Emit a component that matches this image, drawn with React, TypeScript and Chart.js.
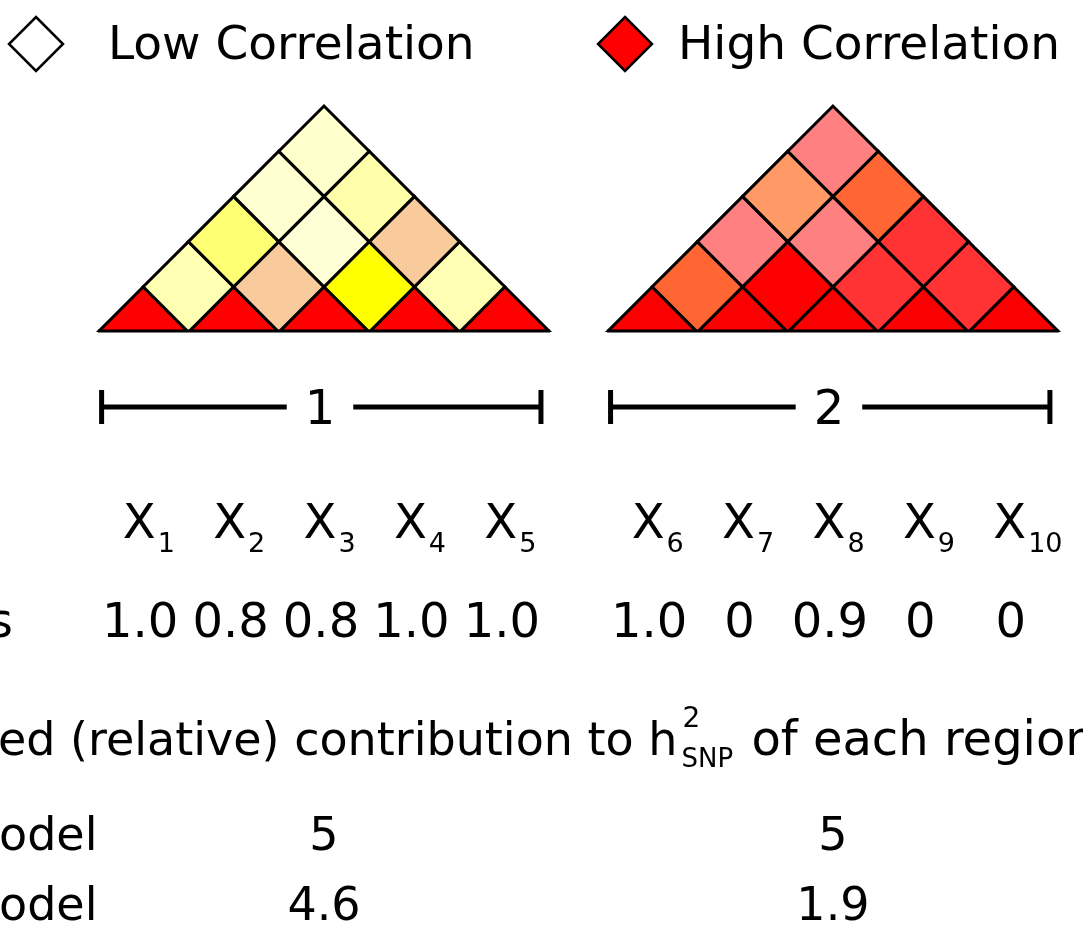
import React, { useEffect, useRef } from "react";
import { Chart, registerables } from "chart.js";

Chart.register(...registerables);

// legend
const legendLabels = ["Low Correlation", "High Correlation"];
const legendColors = ["#FFFFFF", "#FF0000"];

// regions, positions in SNP widths along the x axis
const regionNames = ["1", "2"];
const regionStarts = [0, 5.63];
const snpsPerRegion = 5;

// SNPs
const snpNames = ["1", "2", "3", "4", "5", "6", "7", "8", "9", "10"];
const snpRatios = ["1.0", "0.8", "0.8", "1.0", "1.0", "1.0", "0", "0.9", "0", "0"];

// LD cell colours, row d = distance between the two SNPs, column = first SNP
const ldRegion1 = [
  ["#FF0000", "#FF0000", "#FF0000", "#FF0000", "#FF0000"],
  ["#FFFFB3", "#F9CB9C", "#FFFF00", "#FFFFB3"],
  ["#FFFF73", "#FFFFD6", "#F9CB9C"],
  ["#FFFFD2", "#FFFFAA"],
  ["#FFFFCC"],
];
const ldRegion2 = [
  ["#FA0000", "#FA0000", "#FA0000", "#FA0000", "#FA0000"],
  ["#FF6633", "#FF0000", "#FF3333", "#FF3333"],
  ["#FF8080", "#FF8080", "#FF3333"],
  ["#FF9966", "#FF6633"],
  ["#FF8080"],
];

// bottom table
const titleText = "ed (relative) contribution to h";
const titleSup = "2";
const titleSub = "SNP";
const titleTail = " of each region";
const modelLabels = ["odel", "odel"];
const modelRegion1 = ["5", "4.6"];
const modelRegion2 = ["5", "1.9"];

const FONT = '"DejaVu Sans", sans-serif';

const cellPoints = (ld: string[][], start: number) =>
  ld.flatMap((row, d) =>
    row.map((color, i) => ({ x: start + i + d / 2 + 0.5, y: d / 2, color }))
  );

const overlay = {
  id: "overlay",
  afterDatasetsDraw(chart: any) {
    const { ctx } = chart;
    const xs = chart.scales.x;
    const ys = chart.scales.y;
    const px = (v: number) => xs.getPixelForValue(v);
    const py = (v: number) => ys.getPixelForValue(v);
    ctx.save();
    ctx.fillStyle = "#000";
    ctx.strokeStyle = "#000";

    // triangle base lines
    ctx.lineWidth = 3;
    regionStarts.forEach((s) => {
      ctx.beginPath();
      ctx.moveTo(px(s), py(0) - 1);
      ctx.lineTo(px(s + snpsPerRegion), py(0) - 1);
      ctx.stroke();
    });

    // legend
    const legendX = [36, 625];
    const legendTextX = [108, 678];
    legendLabels.forEach((label, i) => {
      const cx = legendX[i];
      const cy = 44;
      const r = 27;
      ctx.beginPath();
      ctx.moveTo(cx, cy - r);
      ctx.lineTo(cx + r, cy);
      ctx.lineTo(cx, cy + r);
      ctx.lineTo(cx - r, cy);
      ctx.closePath();
      ctx.fillStyle = legendColors[i];
      ctx.fill();
      ctx.lineWidth = 2.5;
      ctx.stroke();
      ctx.fillStyle = "#000";
      ctx.font = `47px ${FONT}`;
      ctx.textAlign = "left";
      ctx.textBaseline = "alphabetic";
      ctx.fillText(label, legendTextX[i], 59);
    });

    // region brackets
    const by = 407;
    regionNames.forEach((name, r) => {
      const s = regionStarts[r];
      const x0 = px(s + 0.04);
      const x1 = px(s + snpsPerRegion - 0.1);
      const cx = px(s + 2.5) - 4;
      ctx.font = `48px ${FONT}`;
      const w = ctx.measureText(name).width;
      const gap = w / 2 + 18;
      ctx.lineWidth = 5;
      ctx.beginPath();
      ctx.moveTo(x0, by);
      ctx.lineTo(cx - gap, by);
      ctx.moveTo(cx + gap, by);
      ctx.lineTo(x1, by);
      ctx.moveTo(x0, by - 17);
      ctx.lineTo(x0, by + 17);
      ctx.moveTo(x1, by - 17);
      ctx.lineTo(x1, by + 17);
      ctx.stroke();
      ctx.textAlign = "center";
      ctx.fillText(name, cx, by + 17);
    });

    // SNP labels and ratios
    snpNames.forEach((n, k) => {
      const r = Math.floor(k / snpsPerRegion);
      const cx = px(regionStarts[r] + (k % snpsPerRegion) + 0.5);
      ctx.font = `48px ${FONT}`;
      ctx.textAlign = "center";
      const xc = cx - 4;
      ctx.fillText("X", xc, 538);
      const wX = ctx.measureText("X").width;
      ctx.font = `27px ${FONT}`;
      ctx.textAlign = "left";
      ctx.fillText(n, xc + wX / 2 + 2, 552);
      ctx.font = `48px ${FONT}`;
      ctx.textAlign = "center";
      ctx.fillText(snpRatios[k], cx - 3, 637);
    });
    ctx.textAlign = "right";
    ctx.fillText("s", 13, 637);

    // title line
    ctx.textAlign = "left";
    ctx.font = `46px ${FONT}`;
    const tx = -2;
    ctx.fillText(titleText, tx, 755);
    let end = tx + ctx.measureText(titleText).width + 4;
    ctx.font = `28px ${FONT}`;
    ctx.fillText(titleSup, end + 1, 727);
    ctx.font = `26px ${FONT}`;
    ctx.fillText(titleSub, end, 767);
    end += ctx.measureText(titleSub).width + 3;
    ctx.font = `48px ${FONT}`;
    ctx.fillText(titleTail, end, 755);

    // model rows
    const rowY = [850, 920];
    ctx.font = `46px ${FONT}`;
    modelLabels.forEach((lab, i) => {
      ctx.textAlign = "left";
      ctx.fillText(lab, -1, rowY[i]);
      ctx.textAlign = "center";
      ctx.fillText(modelRegion1[i], px(regionStarts[0] + 2.5), rowY[i]);
      ctx.fillText(modelRegion2[i], px(regionStarts[1] + 2.5), rowY[i]);
    });
    ctx.restore();
  },
};

export default function App() {
  const canvasRef = useRef<HTMLCanvasElement>(null);
  const chartRef = useRef<Chart | null>(null);

  useEffect(() => {
    document.body.style.margin = "0";
    if (!canvasRef.current) return;
    const unit = 90.4;
    const xMin = -98 / unit;
    const xMax = xMin + 1083 / unit;
    const baseY = 332;
    const halfUnit = (c: any) => {
      const x = c.chart.scales.x;
      return (x.getPixelForValue(1) - x.getPixelForValue(0)) / 2;
    };
    const regions = [ldRegion1, ldRegion2].map((ld, r) => cellPoints(ld, regionStarts[r]));

    chartRef.current = new Chart(canvasRef.current, {
      type: "scatter",
      data: {
        datasets: regions.map((pts, r) => ({
          label: "Region " + regionNames[r],
          data: pts.map((p) => ({ x: p.x, y: p.y })),
          backgroundColor: pts.map((p) => p.color),
          borderColor: "#000",
          borderWidth: 3,
          pointStyle: "rectRot",
          pointRadius: halfUnit,
          pointHoverRadius: halfUnit,
          clip: 0,
        })),
      },
      options: {
        animation: false,
        responsive: true,
        maintainAspectRatio: false,
        events: [],
        layout: { padding: { top: 0, left: 0, right: 0, bottom: 928 - baseY } },
        scales: {
          x: { type: "linear", min: xMin, max: xMax, display: false },
          y: { type: "linear", min: 0, max: baseY / unit, display: false },
        },
        plugins: {
          legend: { display: false },
          tooltip: { enabled: false },
        },
      },
      plugins: [overlay],
    });

    return () => {
      chartRef.current?.destroy();
      chartRef.current = null;
    };
  }, []);

  return (
    <div style={{ position: "relative", width: 1083, height: 928, background: "#fff" }}>
      <canvas ref={canvasRef} />
    </div>
  );
}
